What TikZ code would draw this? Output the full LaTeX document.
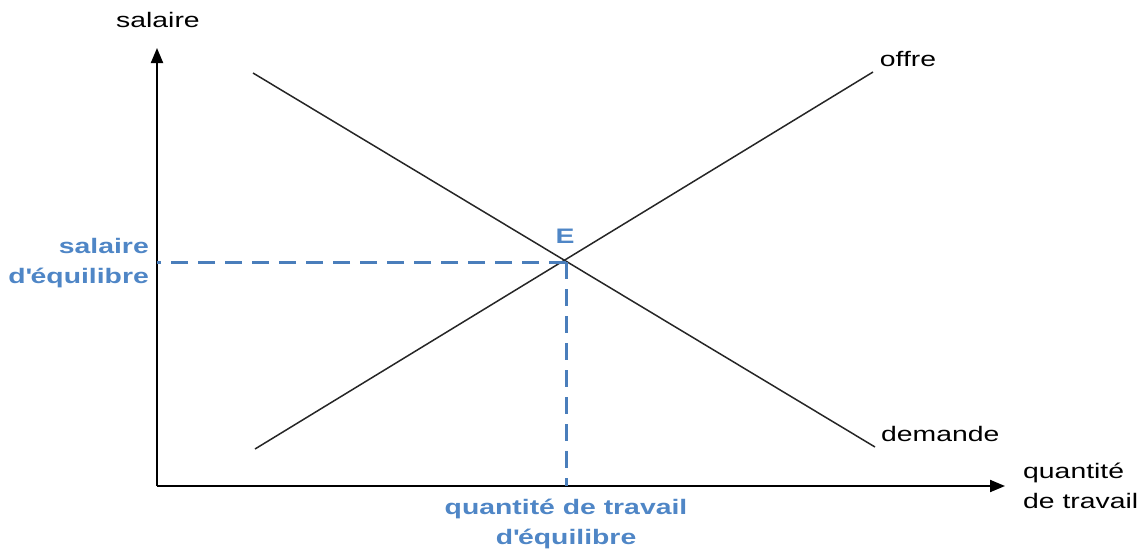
\documentclass[tikz,border=0pt]{standalone}
\usepackage{fontspec}
\setmainfont{Liberation Sans}[FakeStretch=1.35]
\usetikzlibrary{arrows.meta}
\definecolor{eqblue}{HTML}{4A7EBB}
\definecolor{eqtext}{HTML}{4F86C6}
\begin{document}
\begin{tikzpicture}[x=1pt,y=-1pt,
  axis/.style={line width=2pt,-{Triangle[length=15pt,width=12pt]}},
  curve/.style={line width=1.5pt,black!85},
  guide/.style={line width=3pt,eqblue,dash pattern=on 17pt off 10pt},
  lab/.style={inner sep=0pt,font=\fontsize{21}{30}\selectfont,text=black},
  eqlab/.style={inner sep=0pt,font=\fontsize{21}{30}\selectfont\bfseries,text=eqtext}]
\useasboundingbox (0,0) rectangle (1147,552);
\coordinate (O) at (157,486);
\coordinate (Ytop) at (157,48);
\coordinate (Xend) at (1005,486);
\coordinate (S1) at (255,449);
\coordinate (S2) at (873,72);
\coordinate (D1) at (253,73);
\coordinate (D2) at (875,447);
\coordinate (E) at (566,262);
\draw[axis] (O) -- (Ytop);
\draw[axis] (O) -- (Xend);
\draw[curve] (S1) -- (S2);
\draw[curve] (D1) -- (D2);
\draw[guide] (E) -- (E -| O);
\draw[guide] (E) -- (E |- O);
\node[lab] (ylab) at (158,20) {salaire};
\node[lab] (offre) at (908,59) {offre};
\node[lab,anchor=west] (demande) at (881,434) {demande};
\node[lab,anchor=west,align=left] (xlab) at (1023,486) {quantité\\de travail};
\node[eqlab] (Elab) at (565,236) {E};
\node[eqlab,anchor=east,align=right] (weq) at (149,263) {salaire\\d\textquotesingle équilibre};
\node[eqlab,align=center] (qeq) at (566,524) {quantité de travail\\d\textquotesingle équilibre};
\end{tikzpicture}
\end{document}
